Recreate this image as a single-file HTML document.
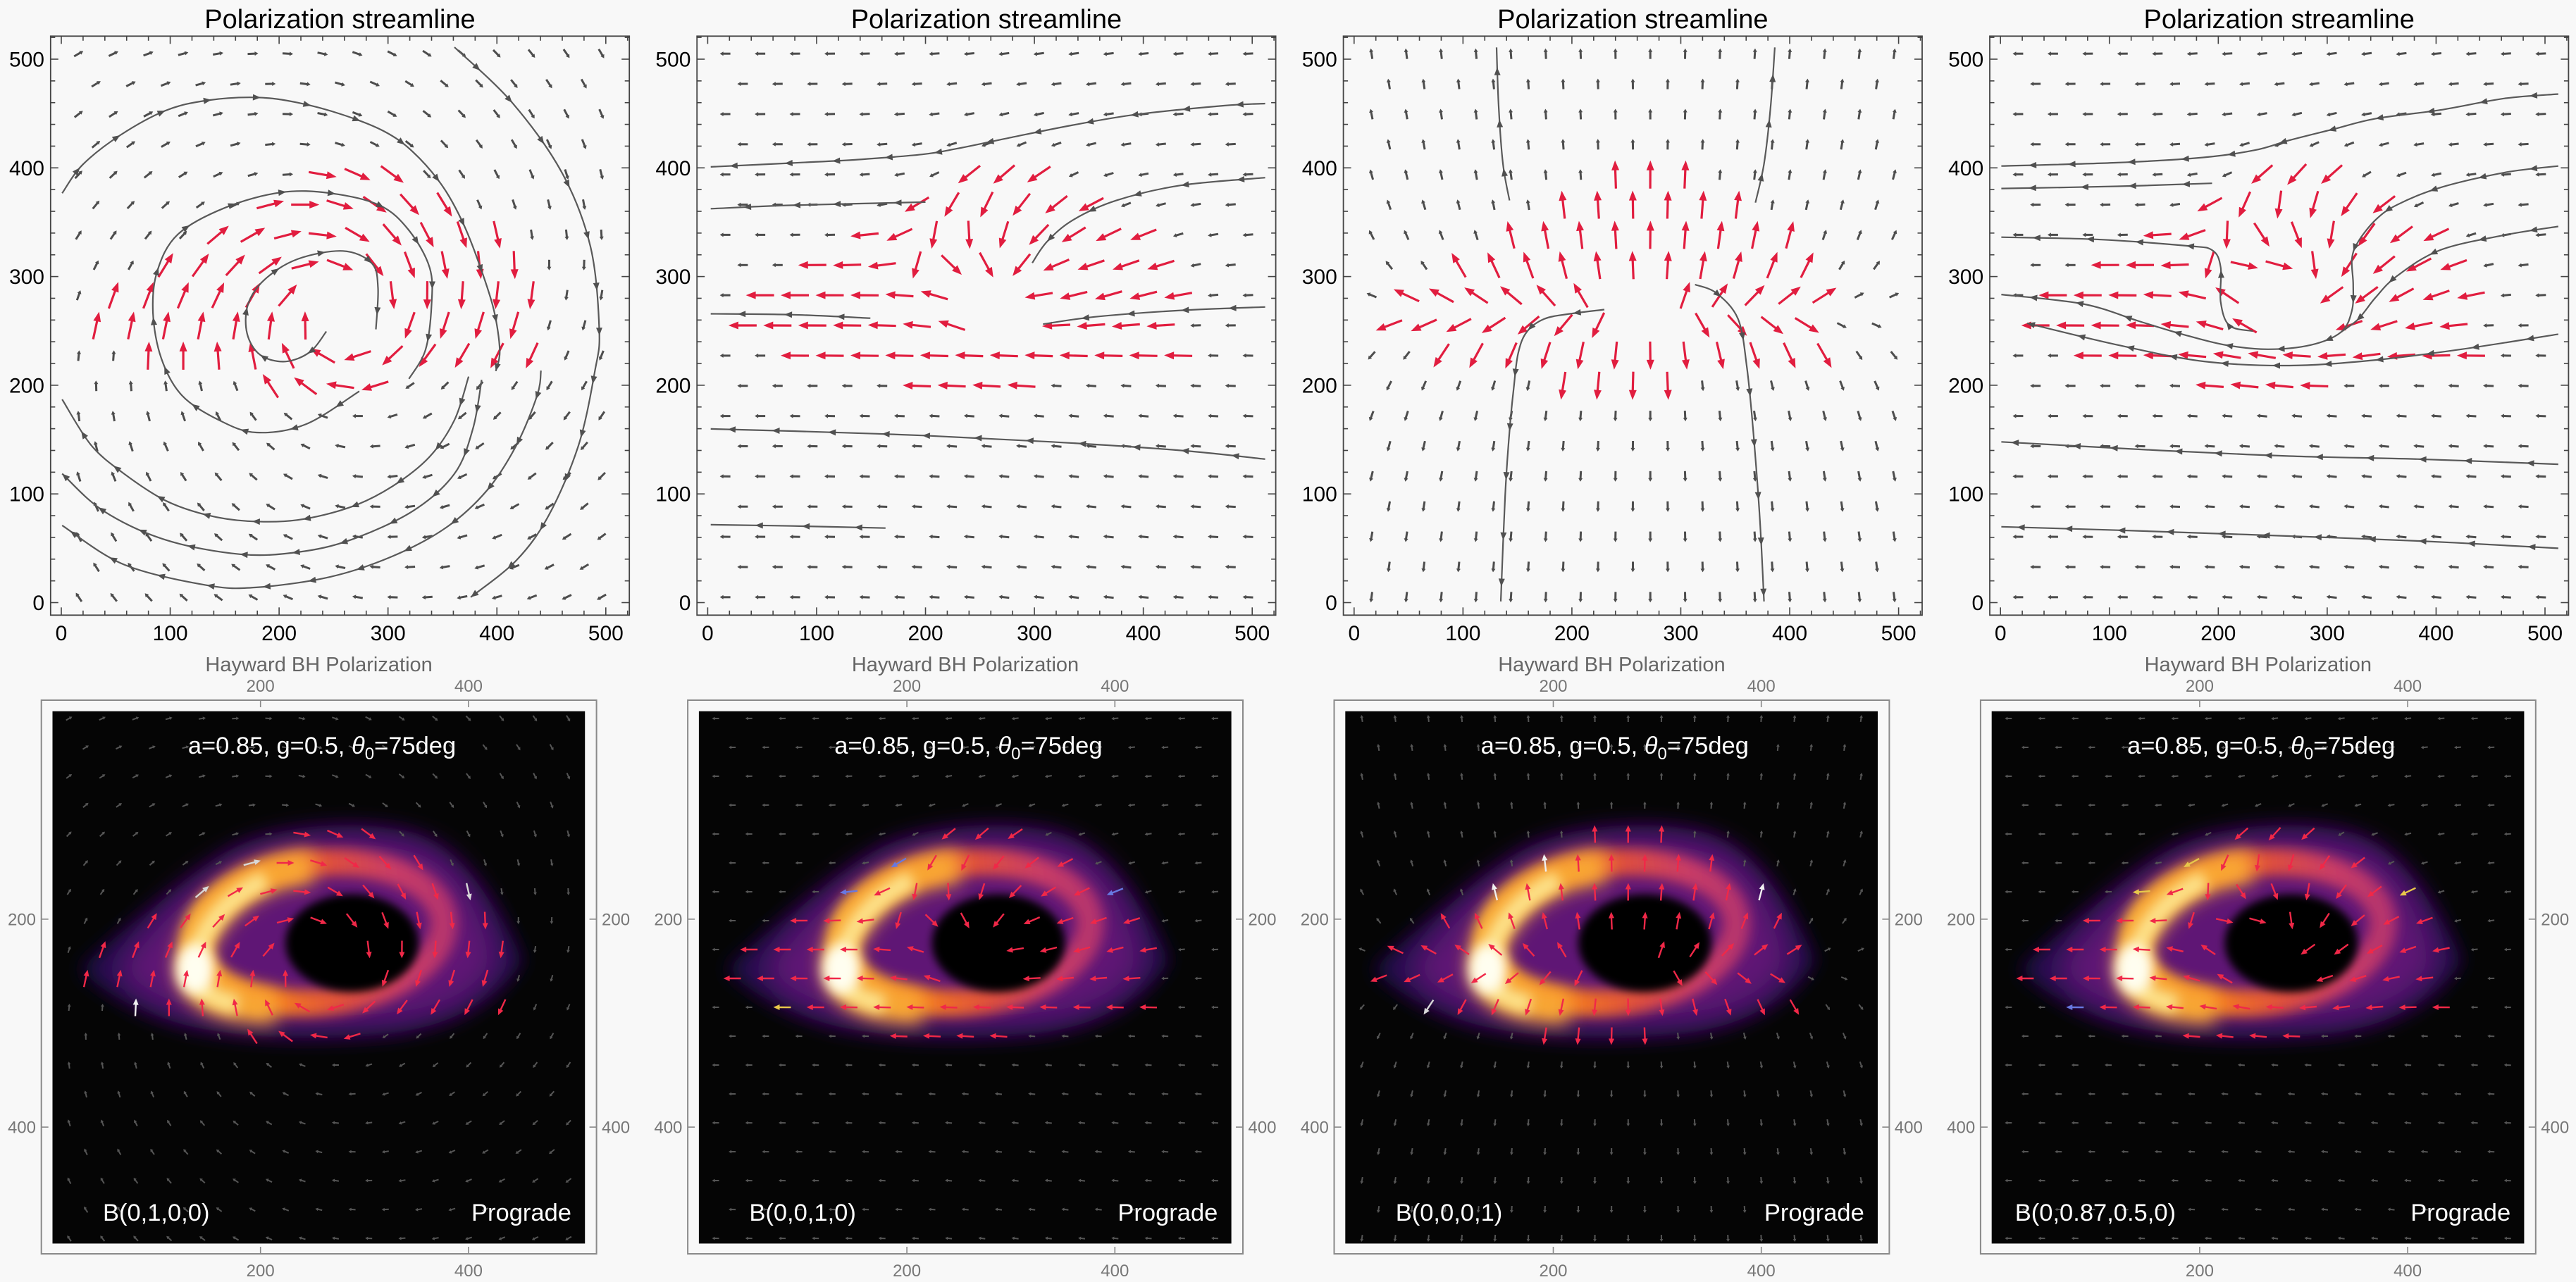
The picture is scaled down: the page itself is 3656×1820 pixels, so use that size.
<!DOCTYPE html>
<html><head><meta charset="utf-8">
<style>
html,body{margin:0;padding:0;background:#f8f8f8;}
svg{display:block;}
text{font-family:"Liberation Sans",Arial,sans-serif;}
</style></head><body>
<svg id="s" xmlns="http://www.w3.org/2000/svg" width="3656" height="1820" viewBox="0 0 3656 1820">
<defs>
 <filter id="fb14" x="-40%" y="-40%" width="180%" height="180%"><feGaussianBlur stdDeviation="14"/></filter>
 <filter id="fb9" x="-40%" y="-40%" width="180%" height="180%"><feGaussianBlur stdDeviation="9"/></filter>
 <filter id="fb6" x="-40%" y="-40%" width="180%" height="180%"><feGaussianBlur stdDeviation="6"/></filter>
 <filter id="fb4" x="-40%" y="-40%" width="180%" height="180%"><feGaussianBlur stdDeviation="4"/></filter>
 <linearGradient id="rg" gradientUnits="userSpaceOnUse" x1="130" y1="0" x2="385" y2="0">
   <stop offset="0" stop-color="#fbb535"/>
   <stop offset="0.3" stop-color="#f57d1f"/>
   <stop offset="0.55" stop-color="#e0503a"/>
   <stop offset="0.8" stop-color="#c93c66"/>
   <stop offset="1" stop-color="#b3336e"/>
 </linearGradient>
 <clipPath id="ic"><rect x="0" y="0" width="512" height="512"/></clipPath>
 <g id="ring">
  <rect x="0" y="0" width="512" height="512" fill="#050505"/>
  <g clip-path="url(#ic)">
   <path d="M 27 248 C 60 215, 120 170, 170 135 C 210 112, 300 105, 345 118 C 395 135, 430 190, 452 240 C 430 275, 390 300, 330 310 C 260 318, 170 315, 120 300 C 80 288, 45 268, 27 248 Z" fill="#200c4c" filter="url(#fb9)"/>
   <path d="M 60 248 C 90 205, 140 150, 200 130 C 250 115, 320 115, 360 130 C 400 150, 420 195, 430 240 C 415 275, 380 295, 320 300 C 250 305, 170 305, 120 290 C 90 280, 70 265, 60 248 Z" fill="#5e1775" filter="url(#fb14)"/>
   <ellipse cx="257" cy="213" rx="120" ry="67" fill="none" stroke="url(#rg)" stroke-width="26" transform="rotate(-6 257 213)" filter="url(#fb6)"/>
   <path d="M 250 150 C 190 152, 140 195, 135 240 C 132 270, 160 285, 215 285" fill="none" stroke="#f9a834" stroke-width="32" filter="url(#fb9)"/>
   <path d="M 205 162 C 165 180, 138 215, 136 248 C 136 266, 150 277, 178 282" fill="none" stroke="#fde28a" stroke-width="18" filter="url(#fb6)"/>
   <ellipse cx="137" cy="248" rx="18" ry="24" fill="#fffef0" filter="url(#fb6)"/>
   <ellipse cx="288" cy="223" rx="64" ry="47" fill="#050505" filter="url(#fb4)"/>
  </g>
 </g>
</defs>
<rect width="3656" height="1820" fill="#f8f8f8"/>

<use href="#ring" transform="translate(74.5,1009.7) scale(1.476)"/>
<use href="#ring" transform="translate(991.9,1009.7) scale(1.476)"/>
<use href="#ring" transform="translate(1909.3,1009.7) scale(1.476)"/>
<use href="#ring" transform="translate(2826.7,1009.7) scale(1.476)"/>

<g id="dyn"></g>

<g fill="none" stroke="#444" stroke-width="1.8">
 <rect x="71.8" y="51.3" width="821.4" height="822"/>
 <rect x="989.2" y="51.3" width="821.4" height="822"/>
 <rect x="1906.6" y="51.3" width="821.4" height="822"/>
 <rect x="2824" y="51.3" width="821.4" height="822"/>
</g>
<g fill="none" stroke="#8a8a8a" stroke-width="2">
 <rect x="58.7" y="994" width="787.9" height="786"/>
 <rect x="976.1" y="994" width="787.9" height="786"/>
 <rect x="1893.5" y="994" width="787.9" height="786"/>
 <rect x="2810.9" y="994" width="787.9" height="786"/>
</g>

<g font-size="38" fill="#000" text-anchor="middle">
 <text x="482.5" y="40">Polarization streamline</text>
 <text x="1399.9" y="40">Polarization streamline</text>
 <text x="2317.3" y="40">Polarization streamline</text>
 <text x="3234.7" y="40">Polarization streamline</text>
</g>

<g font-size="30" fill="#000" text-anchor="middle">
 <text x="87" y="909">0</text><text x="241.6" y="909">100</text><text x="396.1" y="909">200</text><text x="550.7" y="909">300</text><text x="705.2" y="909">400</text><text x="859.8" y="909">500</text>
 <text x="1004.4" y="909">0</text><text x="1159" y="909">100</text><text x="1313.5" y="909">200</text><text x="1468.1" y="909">300</text><text x="1622.6" y="909">400</text><text x="1777.2" y="909">500</text>
 <text x="1921.8" y="909">0</text><text x="2076.4" y="909">100</text><text x="2230.9" y="909">200</text><text x="2385.5" y="909">300</text><text x="2540" y="909">400</text><text x="2694.6" y="909">500</text>
 <text x="2839.2" y="909">0</text><text x="2993.8" y="909">100</text><text x="3148.3" y="909">200</text><text x="3302.9" y="909">300</text><text x="3457.4" y="909">400</text><text x="3612" y="909">500</text>
</g>
<g font-size="30" fill="#000" text-anchor="end">
 <text x="63" y="866">0</text><text x="63" y="711.7">100</text><text x="63" y="557.4">200</text><text x="63" y="403.1">300</text><text x="63" y="248.8">400</text><text x="63" y="94.5">500</text>
 <text x="980.4" y="866">0</text><text x="980.4" y="711.7">100</text><text x="980.4" y="557.4">200</text><text x="980.4" y="403.1">300</text><text x="980.4" y="248.8">400</text><text x="980.4" y="94.5">500</text>
 <text x="1897.8" y="866">0</text><text x="1897.8" y="711.7">100</text><text x="1897.8" y="557.4">200</text><text x="1897.8" y="403.1">300</text><text x="1897.8" y="248.8">400</text><text x="1897.8" y="94.5">500</text>
 <text x="2815.2" y="866">0</text><text x="2815.2" y="711.7">100</text><text x="2815.2" y="557.4">200</text><text x="2815.2" y="403.1">300</text><text x="2815.2" y="248.8">400</text><text x="2815.2" y="94.5">500</text>
</g>

<g font-size="29" fill="#666" text-anchor="middle">
 <text x="452.6" y="953">Hayward BH Polarization</text>
 <text x="1370" y="953">Hayward BH Polarization</text>
 <text x="2287.4" y="953">Hayward BH Polarization</text>
 <text x="3204.8" y="953">Hayward BH Polarization</text>
</g>

<g font-size="24" fill="#777" text-anchor="middle">
 <text x="369.7" y="982">200</text><text x="664.9" y="982">400</text><text x="369.7" y="1812">200</text><text x="664.9" y="1812">400</text>
 <text x="1287.1" y="982">200</text><text x="1582.3" y="982">400</text><text x="1287.1" y="1812">200</text><text x="1582.3" y="1812">400</text>
 <text x="2204.5" y="982">200</text><text x="2499.7" y="982">400</text><text x="2204.5" y="1812">200</text><text x="2499.7" y="1812">400</text>
 <text x="3121.9" y="982">200</text><text x="3417.1" y="982">400</text><text x="3121.9" y="1812">200</text><text x="3417.1" y="1812">400</text>
</g>
<g font-size="24" fill="#777" text-anchor="end">
 <text x="51" y="1313.4">200</text><text x="51" y="1608.6">400</text>
 <text x="968.4" y="1313.4">200</text><text x="968.4" y="1608.6">400</text>
 <text x="1885.8" y="1313.4">200</text><text x="1885.8" y="1608.6">400</text>
 <text x="2803.2" y="1313.4">200</text><text x="2803.2" y="1608.6">400</text>
</g>
<g font-size="24" fill="#777" text-anchor="start">
 <text x="854" y="1313.4">200</text><text x="854" y="1608.6">400</text>
 <text x="1771.4" y="1313.4">200</text><text x="1771.4" y="1608.6">400</text>
 <text x="2688.8" y="1313.4">200</text><text x="2688.8" y="1608.6">400</text>
 <text x="3606.2" y="1313.4">200</text><text x="3606.2" y="1608.6">400</text>
</g>

<g font-size="34.5" fill="#fff" text-anchor="middle">
 <text x="457" y="1070">a=0.85, g=0.5, <tspan font-style="italic">θ</tspan><tspan font-size="24" dy="8">0</tspan><tspan dy="-8">=75deg</tspan></text>
 <text x="1374.4" y="1070">a=0.85, g=0.5, <tspan font-style="italic">θ</tspan><tspan font-size="24" dy="8">0</tspan><tspan dy="-8">=75deg</tspan></text>
 <text x="2291.8" y="1070">a=0.85, g=0.5, <tspan font-style="italic">θ</tspan><tspan font-size="24" dy="8">0</tspan><tspan dy="-8">=75deg</tspan></text>
 <text x="3209.2" y="1070">a=0.85, g=0.5, <tspan font-style="italic">θ</tspan><tspan font-size="24" dy="8">0</tspan><tspan dy="-8">=75deg</tspan></text>
 <text x="221.7" y="1733">B(0,1,0,0)</text>
 <text x="1139.1" y="1733">B(0,0,1,0)</text>
 <text x="2056.5" y="1733">B(0,0,0,1)</text>
 <text x="2973.9" y="1733">B(0,0.87,0.5,0)</text>
 <text x="740" y="1733">Prograde</text>
 <text x="1657.4" y="1733">Prograde</text>
 <text x="2574.8" y="1733">Prograde</text>
 <text x="3492.2" y="1733">Prograde</text>
</g>
</svg>
<script>
(function(){
var NS="http://www.w3.org/2000/svg";
var dyn=document.getElementById('dyn');
function sq(x){return x*x;}
function mk(tag,at,p){var e=document.createElementNS(NS,tag);for(var k in at)e.setAttribute(k,at[k]);(p||dyn).appendChild(e);return e;}
var OX=[0,917.4,1834.8,2752.2];
function TX(k,u){return 87+1.5456*u+OX[k];}
function TY(v){return 855.5-1.543*v;}
function BX(k,u){return 74.5+1.476*u+OX[k];}
function BY(v){return 1009.7+1.476*(512-v);}
var RT=[[180,240,0],[199.5,236,62],[227,252,185],[255,232,212],[283,238,200],[310,255,168],[338,268,138],[366,272,88],[394,272,40],[412,272,0]];
function ring(u,v){if(v<=RT[0][0]||v>=RT[RT.length-1][0])return -1;
 for(var i=0;i<RT.length-1;i++){if(v>=RT[i][0]&&v<=RT[i+1][0]){var t=(v-RT[i][0])/(RT[i+1][0]-RT[i][0]);var c=RT[i][1]+t*(RT[i+1][1]-RT[i][1]);var h=RT[i][2]+t*(RT[i+1][2]-RT[i][2]);return h>0?Math.abs(u-c)/h:-1;}}return -1;}
function hole(u,v){var a=(u-270)/36,b=(v-272)/27;return a*a+b*b<1;}
function f1(u,v){var du=u-250,dv=v-262;return [dv-0.25*du,-du-0.25*dv];}
function f2(u,v){var a=-1,b=0;var du=u-280,dv=v-292,r=Math.hypot(du,dv)+1e-6;
 if(dv>-5){var g=2.6*Math.exp(-sq(r/90));a-=g*du/r;b-=g*Math.max(dv,0)/r;}
 if(u<265&&v>240&&v<300){var qu=u-255,qv=v-238,rq=Math.hypot(qu,qv)+1e-6;var g2=2.6*Math.exp(-sq(rq/55));a+=g2*qu/rq;b+=g2*qv/rq;}
 b-=0.45*Math.exp(-sq((u-370)/90)-sq((v-320)/55));
 b-=0.12*Math.tanh((v-285)/120)*Math.exp(-sq((u-330)/170));
 return [a,b];}
function f3(u,v){return [u-268,7*(v-268)];}
function f4(u,v){var f=f2(u,v);var n=Math.hypot(f[0],f[1])+1e-9;var du=u-280,dv=v-292,r=Math.hypot(du,dv)+1e-6;var g=0.9*Math.exp(-sq(r/80));return [f[0]/n+g*dv/r,f[1]/n-g*du/r];}
var F=[f1,f2,f3,f4];
function fx(z){return z.toFixed(1);}
function arrow(g,x,y,dx,dy,L,col,sw,hl,hw){
 var x1=x+dx*L/2,y1=y+dy*L/2,x0=x-dx*L/2,y0=y-dy*L/2;
 var bx=x1-dx*hl,by=y1-dy*hl;
 mk('line',{x1:fx(x0),y1:fx(y0),x2:fx(bx+dx*0.5),y2:fx(by+dy*0.5),stroke:col,'stroke-width':sw},g);
 mk('polygon',{points:[x1,y1,bx-dy*hw,by+dx*hw,bx+dy*hw,by-dx*hw].map(fx).join(' '),fill:col},g);
}
var k,t;
for(k=0;k<4;k++){
 var g=mk('g',{stroke:'#444','stroke-width':1.6});
 for(t=0;t<=520;t+=20){var maj=t%100==0;var L=maj?11:6.5;
  var x=TX(k,t);mk('line',{x1:x,y1:873.3,x2:x,y2:873.3-L},g);mk('line',{x1:x,y1:51.3,x2:x,y2:51.3+L},g);
  var y=TY(t);var xl=71.8+OX[k],xr=893.2+OX[k];
  mk('line',{x1:xl,y1:y,x2:xl+L,y2:y},g);mk('line',{x1:xr,y1:y,x2:xr-L,y2:y},g);}
 var gb0=mk('g',{stroke:'#888','stroke-width':1.6});
 [200,400].forEach(function(tt){var xx=BX(k,tt);mk('line',{x1:xx,y1:994,x2:xx,y2:1004},gb0);mk('line',{x1:xx,y1:1780,x2:xx,y2:1770},gb0);
  var yy=1009.7+1.476*tt;mk('line',{x1:58.7+OX[k],y1:yy,x2:68.7+OX[k],y2:yy},gb0);mk('line',{x1:846.6+OX[k],y1:yy,x2:836.6+OX[k],y2:yy},gb0);});
}
var cols=['#d8d8d8','#6878e0','#f0f0f0','#e8c84a'];
for(k=0;k<4;k++){
 var gt=mk('g',{}),gb=mk('g',{});
 for(var kr=0;kr<19;kr++){var v=5+27.78*kr;var ev=kr%2==0;var n=ev?16:15;
  for(var j=0;j<n;j++){var u=(ev?16:32)+32*j;if(hole(u,v))continue;
   var f=F[k](u,v);var nn=Math.hypot(f[0],f[1]);if(nn<1e-9)continue;
   var dx=f[0]/nn,dy=-f[1]/nn;var rr=ring(u,v);var inr=rr>=0&&rr<1;
   if(inr){arrow(gt,TX(k,u),TY(v),dx,dy,40,'#e11d3f',3.2,14,5.5);
    var edge=rr>0.82;var col=(edge&&((j+kr)%2==0))?cols[(j*3+kr+k)%4]:'#f02848';
    arrow(gb,BX(k,u),BY(v),dx,dy,25,col,2.4,9,4);
   }else{arrow(gt,TX(k,u),TY(v),dx,dy,15,'#4d4d4d',3,5,3);arrow(gb,BX(k,u),BY(v),dx,dy,10,'#555',2,4,2.4);}
  }}
}
var SL=[
 [[[361,511],[414,460],[460,395],[486,327],[494,251],[490,213],[475,145],[448,81],[418,39],[376,5]],
  [[0.8,376.7],[19.7,403],[54,430],[95.5,452.6],[133.5,462],[179,464.8],[217,460],[258.6,448.8],[296.5,433.6],[323,414.6],[349.5,384],[368.5,350],[383.6,312],[397,270],[402.6,232.4],[399,213]],
  [[374,208],[361,168],[338,134],[304,107],[266,88],[217,76],[171,75],[133.5,80.6],[95.5,94],[57.6,118.6],[27.3,145],[0.8,187]],
  [[386,205],[378,160],[361,118.6],[323,84.4],[266,57.8],[217,46.4],[164,44.5],[95.5,57.8],[38.7,84.4],[0.8,118.6]],
  [[440.5,213.5],[437,190.7],[418,145],[391,103.4],[353.3,69],[304,42.6],[247,23.7],[179,14],[133.5,16],[57.6,35],[0.8,71]],
  [[273.7,194.5],[224.4,164],[179,156.5],[144.8,167.9],[110.7,190.7],[91.8,224.8],[84.2,266.6],[88,304.6],[106.9,338.7],[150.5,363.4],[201.7,377.4],[247.2,376.7],[292.7,365.3],[319.2,342.5],[338.2,308.3],[340,274.2],[334.4,232.4],[319.2,205.9]],
  [[243.4,249.5],[228.2,230.5],[205.5,221.8],[182.7,227.9],[170.6,247.6],[171.4,274.2],[186.5,297],[216.9,316],[258.6,323.5],[285.1,312.2],[290.8,289.4],[288.9,251.4]]],
 [[[511.9,459.2],[474,457.2],[395,449.3],[335.6,439.4],[276.2,427.5],[228.6,417.6],[197,412.4],[137.5,407.6],[78,404.5],[2.8,400.9]],
  [[511.9,391],[434.7,383.9],[375.2,370],[335.6,352.1],[311.8,332.3],[298,312.5]],
  [[200,368.5],[78,365.6],[2.8,362.4]],
  [[511.9,272],[434.7,268.9],[355.4,262.9],[307.9,256.2]],
  [[149.4,261.7],[78,264.9],[2.8,265.7]],
  [[511.9,132],[434.7,140],[315.8,147.9],[197,153.8],[78,157.8],[2.8,159.8]],
  [[163.3,68.6],[78,70.5],[2.8,71.7]]],
 [[[142.7,370],[136.7,403.7],[132.8,455.3],[130.8,510.8]],
  [[368.5,368],[376.4,403.7],[382.4,455.3],[386.3,510.8]],
  [[229.8,269.6],[198.1,265.7],[174.4,260.9],[158.5,249],[150.6,229.2],[146.6,197.5],[142.7,157.8],[138.7,98.3],[134.7,1.1]],
  [[313,292.6],[332.8,284.7],[352.6,260.9],[360.6,217.3],[366.5,157.8],[372.5,78.5],[376.4,1.1]]],
 [[[512.2,467.9],[462.9,463.9],[403.6,453.2],[344.4,445.3],[304.9,435.4],[265.4,425.4],[233.8,416.3],[186.4,409.6],[107.5,404.8],[0.8,401.7]],
  [[194.3,385.8],[107.5,383],[0.8,381]],
  [[512.2,401.7],[462.9,395.7],[403.6,381.8],[364.1,366],[344.4,352.1],[328.6,332.3],[322.7,316.4],[323.9,292.6],[322.7,268.8],[312.8,249],[285.2,237.1],[245.7,233.1],[206.2,237.1],[166.7,247],[127.2,258.9],[75.9,274.8],[0.8,283.5]],
  [[512.2,346.1],[462.9,338.2],[403.6,324.3],[364.1,300.5],[344.4,280.7],[328.6,260.9],[312.8,249]],
  [[231.8,249.8],[210.1,255],[202.2,276.7],[202.2,308.5],[194.3,324.3],[170.6,328.3],[87.7,334.2],[0.8,336.2]],
  [[512.2,247],[423.4,233.1],[344.4,223.2],[265.4,218.1],[186.4,222],[107.5,237.1],[24.5,257]],
  [[512.2,127.3],[383.9,132],[265.4,134.8],[146.9,140],[0.8,147.9]],
  [[512.2,50],[383.9,56.7],[225.9,62.6],[107.5,66.6],[0.8,69.8]]]
];
function smooth(pts){var d='M'+fx(pts[0][0])+','+fx(pts[0][1]);var s=[pts[0]];
 for(var i=0;i<pts.length-1;i++){var p0=pts[i-1]||pts[i],p1=pts[i],p2=pts[i+1],p3=pts[i+2]||p2;
  var c1=[p1[0]+(p2[0]-p0[0])/6,p1[1]+(p2[1]-p0[1])/6],c2=[p2[0]-(p3[0]-p1[0])/6,p2[1]-(p3[1]-p1[1])/6];
  d+=' C'+fx(c1[0])+','+fx(c1[1])+' '+fx(c2[0])+','+fx(c2[1])+' '+fx(p2[0])+','+fx(p2[1]);
  for(var q=1;q<=10;q++){var tt=q/10,mt=1-tt;s.push([mt*mt*mt*p1[0]+3*mt*mt*tt*c1[0]+3*mt*tt*tt*c2[0]+tt*tt*tt*p2[0],mt*mt*mt*p1[1]+3*mt*mt*tt*c1[1]+3*mt*tt*tt*c2[1]+tt*tt*tt*p2[1]]);}}
 return [d,s];}
for(k=0;k<4;k++){(function(k){var gs=mk('g',{});
 SL[k].forEach(function(pts){var sp=pts.map(function(p){return [TX(k,p[0]),TY(p[1])];});var r=smooth(sp);
  mk('path',{d:r[0],fill:'none',stroke:'#595959','stroke-width':2.2},gs);
  var s=r[1];var acc=0,next=40;
  for(var i=1;i<s.length;i++){var ddx=s[i][0]-s[i-1][0],ddy=s[i][1]-s[i-1][1];var l=Math.hypot(ddx,ddy);acc+=l;
   if(acc>=next&&l>0){var ux=ddx/l,uy=ddy/l;var x=s[i][0],y=s[i][1];var bx=x-ux*11,by=y-uy*11;
    mk('polygon',{points:[x,y,bx-uy*4.5,by+ux*4.5,bx+uy*4.5,by-ux*4.5].map(fx).join(' '),fill:'#505050'},gs);next+=72;}}
 });})(k);}
})();
</script>
</body></html>
